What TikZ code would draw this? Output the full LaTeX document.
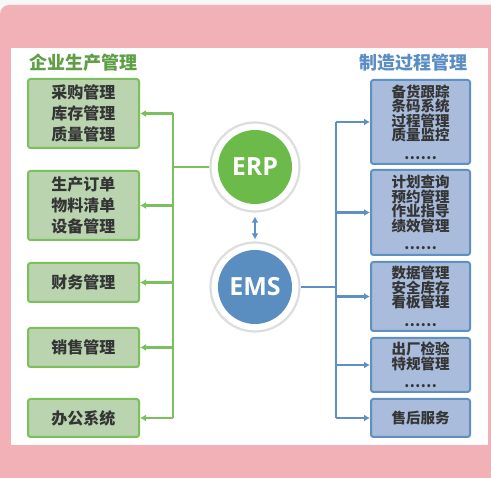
\documentclass[tikz,border=0pt]{standalone}
\usepackage{fontspec}
\usepackage{tikz}
\usetikzlibrary{arrows.meta, positioning}
\setmainfont{Open Sans}
\newfontfamily\cjk{Noto Sans CJK SC}
\definecolor{pinkbg}{HTML}{F1B1B7}
\definecolor{pagegrey}{HTML}{F7F7F7}
\definecolor{erpfill}{HTML}{B9D4AF}
\definecolor{erpline}{HTML}{7CC05E}
\definecolor{erpdark}{HTML}{5E9E44}
\definecolor{erpgreen}{HTML}{6CBA4A}
\definecolor{emsfill}{HTML}{A9BCDB}
\definecolor{emsline}{HTML}{5F90C3}
\definecolor{emsdark}{HTML}{5A8DC3}
\definecolor{emsblue}{HTML}{5A8EC1}
\definecolor{ringgrey}{HTML}{DDDDDD}
\definecolor{boxtext}{HTML}{353535}
\tikzset{
>={Latex[length=6pt,width=7pt]}, % small filled tips
header/.style={font=\cjk\bfseries\fontsize{18}{18}\selectfont, inner sep=0pt},
box/.style={line width=2pt, rounded corners=2.5pt, text=boxtext, align=center, inner sep=0pt},
greenbox/.style={box, draw=erpline, fill=erpfill, minimum width=111pt,
  font=\cjk\bfseries\fontsize{16}{21}\selectfont},
bluebox/.style={box, draw=emsline, fill=emsfill, minimum width=99pt,
  font=\cjk\bfseries\fontsize{14.5}{14.5}\selectfont},
ring/.style={circle, draw=ringgrey, fill=white, line width=2.2pt, minimum size=89pt, inner sep=0pt},
hub/.style={circle, minimum size=74pt, inner sep=0pt, text=white,
  font=\bfseries\fontsize{25}{25}\selectfont},
gwire/.style={draw=erpline, line width=2.2pt},
bwire/.style={draw=emsline, line width=2.2pt},
}

\begin{document}
\begin{tikzpicture}[x=1pt, y=-1pt]
  \useasboundingbox (0,0) rectangle (491,478);
  \fill[pagegrey] (0,0) rectangle (491,478);
  \fill[pinkbg, rounded corners=9pt] (0,5) rectangle (505,495);
  \fill[white] (11,48) rectangle (488,445);

  % headings
  \node[header, text=erpdark] (lhead) at (84,63) {企业生产管理};
  \node[header, text=emsdark] (rhead) at (413.5,63) {制造过程管理};

  % ERP side
  \node[greenbox, minimum height=69pt] (buy) at (83.5,113.5) {采购管理\\库存管理\\质量管理};
  \node[greenbox, minimum height=69pt] (produce) at (83.5,205.5) {生产订单\\物料清单\\设备管理};
  \node[greenbox, minimum height=39pt] (finance) at (83.5,282.5) {财务管理};
  \node[greenbox, minimum height=39pt] (sales) at (83.5,347.5) {销售管理};
  \node[greenbox, minimum height=38pt] (office) at (83.5,418) {办公系统};

  % EMS side
  \node[bluebox, minimum height=84pt] (track) at (420.5,122) {备货跟踪\\条码系统\\过程管理\\质量监控\\[4pt]……};
  \node[bluebox, minimum height=85pt] (plan) at (420.5,212.5) {计划查询\\预约管理\\作业指导\\绩效管理\\[4pt]……};
  \node[bluebox, minimum height=69pt] (data) at (420.5,296.5) {数据管理\\安全库存\\看板管理\\[4pt]……};
  \node[bluebox, minimum height=54pt] (outgoing) at (420.5,365) {出厂检验\\特规管理\\[4pt]……};
  \node[bluebox, minimum height=38pt] (service) at (420.5,418) {售后服务};

  % hubs
  \node[ring] (erpring) at (255,167) {};
  \node[hub, fill=erpgreen] (erp) at (erpring) {ERP};
  \node[ring] (emsring) at (255,287) {};
  \node[hub, fill=emsblue] (ems) at (emsring) {EMS};

  \coordinate (gbus) at (173,0);
  \coordinate (bbus) at (336,0);

  \draw[gwire] (erpring.west) -- (erpring.west -| gbus);
  \draw[gwire] (buy.east -| gbus) -- (office.east -| gbus);
  \foreach \n in {buy, produce, finance, sales, office}
    \draw[gwire, ->] (\n.east -| gbus) -- (\n.east);

  \draw[bwire] (emsring.east) -- (emsring.east -| bbus);
  \draw[bwire] (track.west -| bbus) -- (service.west -| bbus);
  \foreach \n in {track, plan, data, outgoing, service}
    \draw[bwire, ->] (\n.west -| bbus) -- (\n.west);

  \draw[bwire, <->, shorten <=4pt, shorten >=2pt] (erpring.south) -- (emsring.north);
\end{tikzpicture}
\end{document}
